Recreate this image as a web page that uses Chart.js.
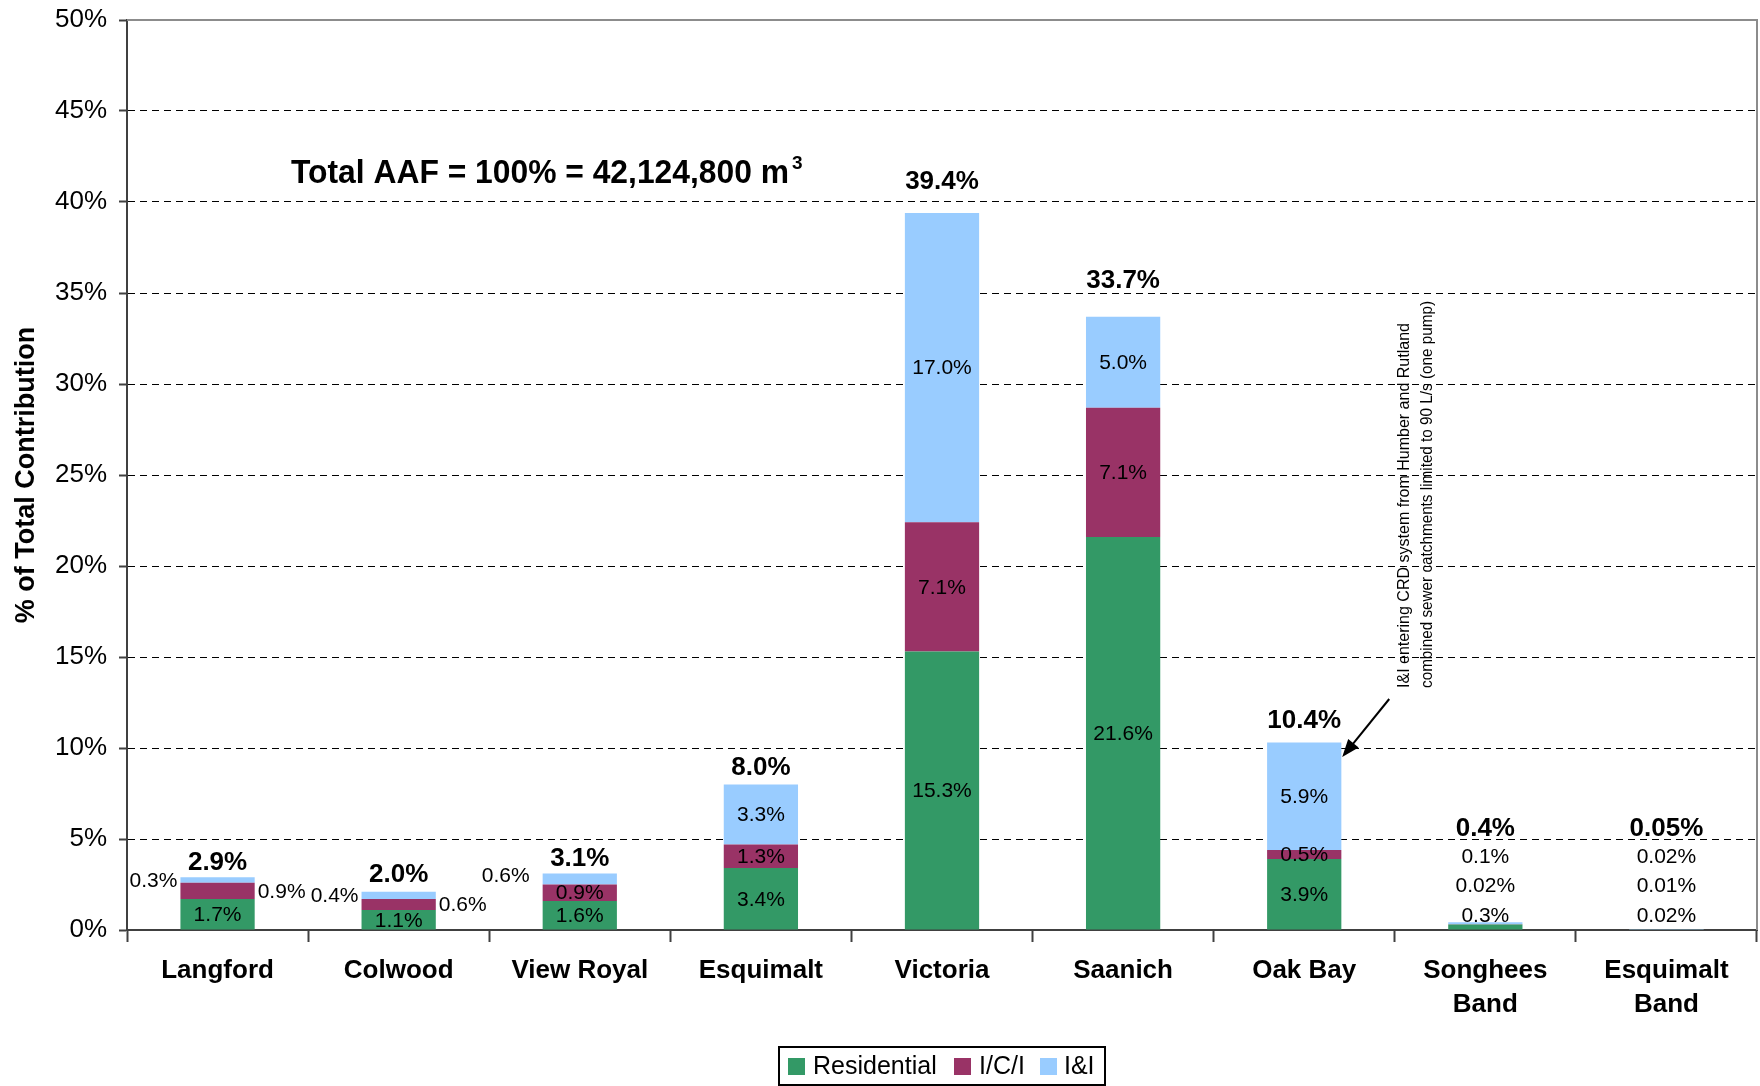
<!DOCTYPE html>
<html><head><meta charset="utf-8">
<script src="https://cdn.jsdelivr.net/npm/chart.js@4.4.1/dist/chart.umd.min.js"></script>
<style>html,body{margin:0;padding:0;background:#fff}canvas{display:block}</style>
</head><body>
<canvas id="c" width="1760" height="1086"></canvas>
<script>
// ---- data ----
const categories = ['Langford', 'Colwood', 'View Royal', 'Esquimalt', 'Victoria', 'Saanich', 'Oak Bay', ['Songhees', 'Band'], ['Esquimalt', 'Band']];
const residential = [1.7, 1.1, 1.6, 3.4, 15.3, 21.6, 3.9, 0.3, 0.02];
const ici = [0.9, 0.6, 0.9, 1.3, 7.1, 7.1, 0.5, 0.02, 0.01];
const infiltration = [0.3, 0.4, 0.6, 3.3, 17.0, 5.0, 5.9, 0.1, 0.02];
const totals = [2.9, 2.0, 3.1, 8.0, 39.4, 33.7, 10.4, 0.4, 0.05];
const seriesNames = ['Residential', 'I/C/I', 'I&I'];
const yTickValues = [0, 5, 10, 15, 20, 25, 30, 35, 40, 45, 50];
const titleText = 'Total AAF = 100% = 42,124,800 m';
const titleSup = '3';
const noteLines = ['I&I entering CRD system from Humber and Rutland', 'combined sewer catchments limited to 90 L/s (one pump)'];

// ---- styles ----
const FONT = '"Liberation Sans", Arial, Helvetica, sans-serif';
const colors = ['#339966', '#993366', '#99CCFF'];
Chart.defaults.font.family = FONT;
Chart.defaults.color = '#000';

function fmt(v) { return (v < 0.1 ? v.toFixed(2) : v.toFixed(1)) + '%'; }

// label placement per category (index) and dataset
const placement = {
  0: { 2: { mode: 'left' }, 1: { mode: 'right' } },
  1: { 2: { mode: 'left' }, 1: { mode: 'right' }, totalDy: -3 },
  2: { 2: { mode: 'left', dx: -10, dy: -4 } },
  4: { totalDy: 2 },
  5: { totalDy: -6 },
  6: { totalDy: -4 },
  7: 'stack',
  8: 'stack'
};

const labelPlugin = {
  id: 'labels',
  afterDatasetsDraw(chart) {
    const ctx = chart.ctx, xs = chart.scales.x, ys = chart.scales.y;
    const data = [residential, ici, infiltration];
    ctx.save();
    ctx.fillStyle = '#000';
    ctx.textBaseline = 'middle';
    for (let j = 0; j < categories.length; j++) {
      const pl = placement[j] || {};
      const cx = xs.getPixelForValue(j);
      if (pl === 'stack') {
        const base = ys.getPixelForValue(0);
        ctx.font = '21px ' + FONT;
        ctx.textAlign = 'center';
        for (let i = 0; i < 3; i++) {
          ctx.fillText(fmt(data[i][j]), cx, base - 14 - i * 29.5);
        }
        ctx.font = 'bold 26px ' + FONT;
        ctx.fillText(fmt(totals[j]), cx, base - 101);
        continue;
      }
      ctx.font = '21px ' + FONT;
      let top = Infinity;
      for (let i = 0; i < 3; i++) {
        const el = chart.getDatasetMeta(i).data[j];
        top = Math.min(top, el.y);
        const mid = (el.y + el.base) / 2;
        const p = pl[i] || { mode: 'in' };
        const dx = p.dx || 0, dy = p.dy || 0;
        if (p.mode === 'left') {
          ctx.textAlign = 'right';
          ctx.fillText(fmt(data[i][j]), el.x - el.width / 2 - 3 + dx, mid + 1 + dy);
        } else if (p.mode === 'right') {
          ctx.textAlign = 'left';
          ctx.fillText(fmt(data[i][j]), el.x + el.width / 2 + 3 + dx, mid + 1 + dy);
        } else {
          ctx.textAlign = 'center';
          ctx.fillText(fmt(data[i][j]), el.x, mid + 1 + dy);
        }
      }
      ctx.font = 'bold 26px ' + FONT;
      ctx.textAlign = 'center';
      ctx.fillText(fmt(totals[j]), cx, top - (13 + 0.5 * totals[j]) + (pl.totalDy || 0));
    }
    ctx.restore();
  },
  afterDraw(chart) {
    const ctx = chart.ctx, a = chart.chartArea, xs = chart.scales.x, ys = chart.scales.y;
    ctx.save();
    // plot border top/right
    ctx.strokeStyle = '#8c8c8c';
    ctx.lineWidth = 2;
    ctx.beginPath();
    ctx.moveTo(a.left, a.top); ctx.lineTo(a.right, a.top); ctx.lineTo(a.right, a.bottom);
    ctx.stroke();

    // title
    ctx.fillStyle = '#000';
    ctx.textAlign = 'left';
    ctx.textBaseline = 'alphabetic';
    ctx.font = 'bold 33px ' + FONT;
    const tx = 291, ty = 183;
    const tw = Math.min(ctx.measureText(titleText).width, 498);
    ctx.fillText(titleText, tx, ty, 498);
    ctx.font = 'bold 19px ' + FONT;
    ctx.fillText(titleSup, tx + tw + 3, ty - 14);

    // annotation (rotated)
    const ox = xs.getPixelForValue(6);
    ctx.font = '17px ' + FONT;
    ctx.textBaseline = 'middle';
    const lines = [[ox + 100, 688, 365], [ox + 123, 688, 387]];
    noteLines.forEach((t, k) => {
      ctx.save();
      ctx.translate(lines[k][0], lines[k][1]);
      ctx.rotate(-Math.PI / 2);
      ctx.fillText(t, 0, 0, lines[k][2]);
      ctx.restore();
    });
    // arrow
    const x1 = ox + 85, y1 = 699, x2 = ox + 38, y2 = ys.getPixelForValue(9.5);
    ctx.strokeStyle = '#000';
    ctx.lineWidth = 2;
    const ang = Math.atan2(y2 - y1, x2 - x1), L = 19;
    ctx.beginPath(); ctx.moveTo(x1, y1); ctx.lineTo(x2 - 10 * Math.cos(ang), y2 - 10 * Math.sin(ang)); ctx.stroke();
    ctx.beginPath();
    ctx.moveTo(x2, y2);
    ctx.lineTo(x2 - L * Math.cos(ang - 0.36), y2 - L * Math.sin(ang - 0.36));
    ctx.lineTo(x2 - L * Math.cos(ang + 0.36), y2 - L * Math.sin(ang + 0.36));
    ctx.closePath();
    ctx.fillStyle = '#000';
    ctx.fill();

    // legend
    ctx.strokeStyle = '#000';
    ctx.lineWidth = 2;
    ctx.strokeRect(779, 1047, 326, 38);
    const items = [[788, 813], [954, 979], [1040, 1064]];
    ctx.font = '25px ' + FONT;
    ctx.textBaseline = 'middle';
    ctx.textAlign = 'left';
    items.forEach((it, k) => {
      ctx.fillStyle = colors[k];
      ctx.fillRect(it[0], 1058, 17, 17);
      ctx.fillStyle = '#000';
      ctx.fillText(seriesNames[k], it[1], 1067);
    });
    ctx.restore();
  }
};

new Chart(document.getElementById('c'), {
  type: 'bar',
  data: {
    labels: categories,
    datasets: [
      { label: seriesNames[0], data: residential, backgroundColor: colors[0] },
      { label: seriesNames[1], data: ici, backgroundColor: colors[1] },
      { label: seriesNames[2], data: infiltration, backgroundColor: colors[2] }
    ]
  },
  options: {
    responsive: false,
    animation: false,
    devicePixelRatio: 1,
    layout: { padding: { left: 0, top: 20, right: 3, bottom: 0 } },
    datasets: { bar: { categoryPercentage: 1, barPercentage: 0.41, borderWidth: 0 } },
    plugins: { legend: { display: false }, tooltip: { enabled: false } },
    scales: {
      x: {
        stacked: true,
        afterFit: s => { s.height = 156; s.paddingLeft = 0; s.paddingRight = 0; },
        grid: { display: true, drawOnChartArea: false, drawTicks: true, tickLength: 12, tickColor: '#404040', tickWidth: 2, offset: true },
        border: { display: true, color: '#404040', width: 2 },
        ticks: { font: { size: 26, weight: 'bold', lineHeight: 1.3 }, color: '#000', padding: 12, autoSkip: false, maxRotation: 0 }
      },
      y: {
        stacked: true,
        min: 0, max: 50,
        afterFit: s => { s.width = 127; s.paddingTop = 0; s.paddingBottom = 0; },
        afterBuildTicks: s => { s.ticks = yTickValues.map(v => ({ value: v })); },
        grid: { color: '#000', lineWidth: 1, tickLength: 8, tickColor: '#404040', tickWidth: 2, tickBorderDash: [] },
        border: { display: true, color: '#404040', width: 2, dash: [7, 5] },
        ticks: { font: { size: 26 }, color: '#000', padding: 12, callback: v => v + '%' },
        title: { display: true, text: '% of Total Contribution', font: { size: 27, weight: 'bold' }, color: '#000', padding: { top: 10, bottom: 0 } }
      }
    }
  },
  plugins: [labelPlugin]
});
</script>
</body></html>
